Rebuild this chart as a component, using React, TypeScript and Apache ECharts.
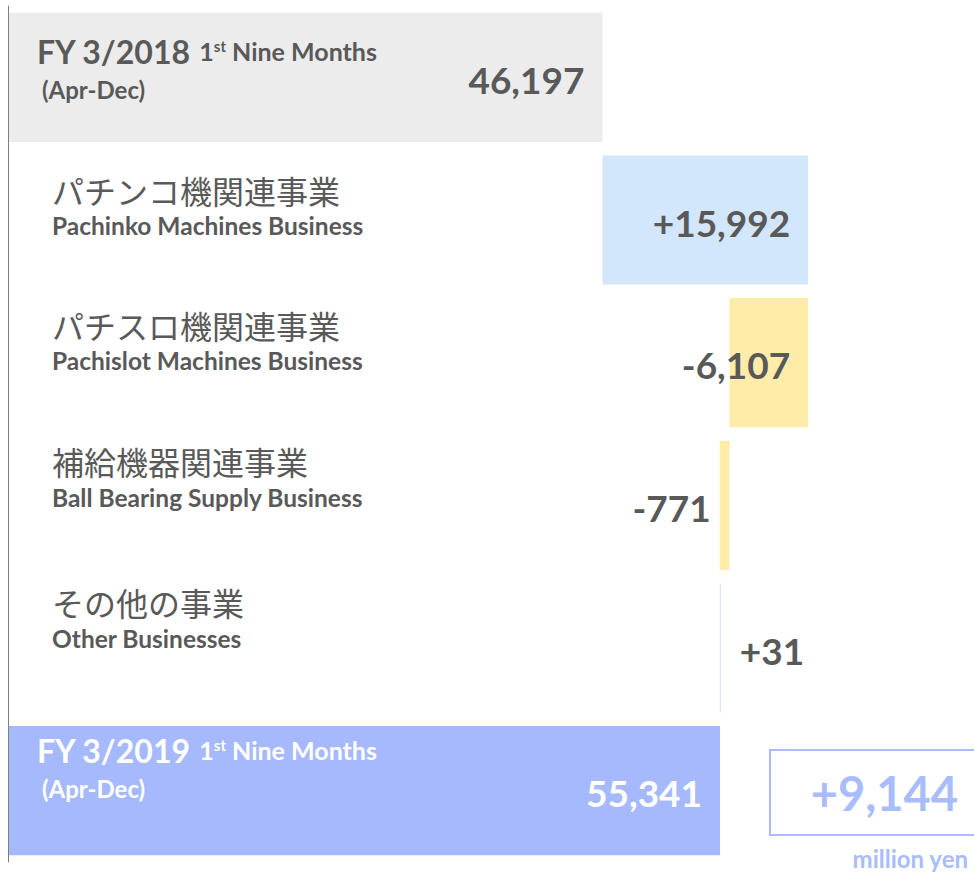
import React, { useEffect, useRef } from "react";
import * as echarts from "echarts";

// ---- data ----
const categoriesJa = ["FY 3/2018", "パチンコ機関連事業", "パチスロ機関連事業", "補給機器関連事業", "その他の事業", "FY 3/2019"];
const categoriesEn = ["1st Nine Months (Apr-Dec)", "Pachinko Machines Business", "Pachislot Machines Business", "Ball Bearing Supply Business", "Other Businesses", "1st Nine Months (Apr-Dec)"];
const startValue = 46197;
const deltas = [15992, -6107, -771, 31];
const endValue = 55341;
const unitLabel = "million yen";

// ---- layout / style constants ----
const W = 974;
const H = 872;
const TEXT = "#595959";
const C_BASE = "#ececec";
const C_UP = "#d2e6fc";
const C_DOWN = "#ffeca9";
const C_END = "#a6b9fd";
const C_NOTE = "#a9bcfd";
const LATO = "Lato, 'Open Sans', sans-serif";
const JP = "'Noto Sans CJK JP', sans-serif";
// extra blank line height below each category label (pushes label up)
const labelGap = [14, 25, 40, 52, 56, 43];

export default function App() {
  const ref = useRef<HTMLDivElement>(null);
  useEffect(() => {
    if (!ref.current) return;
    const chart = echarts.init(ref.current, null, { renderer: "svg" });

    // waterfall computation
    const baseData: number[] = [0];
    const valData: number[] = [startValue];
    let running = startValue;
    deltas.forEach((d) => {
      if (d >= 0) {
        baseData.push(running);
        running += d;
      } else {
        running += d;
        baseData.push(running);
      }
      valData.push(Math.abs(d));
    });
    baseData.push(0);
    valData.push(endValue);

    const signed = ["", ...deltas.map((d) => (d >= 0 ? "+" : "-") + Math.abs(d).toLocaleString("en-US")), ""];
    const fmt = (i: number) =>
      i === 0 ? startValue.toLocaleString("en-US") : i === categoriesJa.length - 1 ? endValue.toLocaleString("en-US") : signed[i];

    const colors = valData.map((_, i) => {
      if (i === 0) return C_BASE;
      if (i === valData.length - 1) return C_END;
      return deltas[i - 1] >= 0 ? C_UP : C_DOWN;
    });

    const labelPos = (i: number) => {
      if (i === 0 || i === valData.length - 1) return { position: "insideRight", distance: 18 };
      const d = deltas[i - 1];
      const v = Math.abs(d);
      if (v > 3000) return { position: "insideRight", distance: 18 };
      if (d < 0) return { position: "left", distance: 9 };
      return { position: "right", distance: 19 };
    };

    const rich: any = {
      fy: { fontSize: 32, fontWeight: "bold", fontFamily: LATO, color: TEXT, lineHeight: 38 },
      ord: { fontSize: 25, fontWeight: "bold", fontFamily: LATO, color: TEXT, lineHeight: 38, padding: [0, 0, 0, 8] },
      sup: { fontSize: 15, fontWeight: "bold", fontFamily: LATO, color: TEXT, lineHeight: 15, verticalAlign: "top", padding: [6, 0, 0, 0] },
      nm: { fontSize: 25, fontWeight: "bold", fontFamily: LATO, color: TEXT, lineHeight: 38 },
      ad: { fontSize: 24, fontWeight: "bold", fontFamily: LATO, color: TEXT, lineHeight: 38, padding: [0, 0, 0, 5] },
      jp: { fontSize: 32, fontFamily: JP, color: TEXT, lineHeight: 36, padding: [0, 0, 0, 15] },
      en: { fontSize: 24.5, fontWeight: "bold", fontFamily: LATO, color: TEXT, lineHeight: 36, padding: [0, 0, 0, 15] },
    };
    ["fy", "ord", "sup", "nm", "ad"].forEach((k) => {
      rich[k + "W"] = { ...rich[k], color: "#ffffff" };
    });
    labelGap.forEach((g, i) => {
      rich["gap" + i] = { fontSize: 1, lineHeight: g, height: g };
    });

    const last = categoriesJa.length - 1;
    const catFormatter = (_v: string, i: number) => {
      if (i === 0 || i === last) {
        const w = i === last ? "W" : "";
        const en = categoriesEn[i];
        const m = en.match(/^(\d+)(st|nd|rd|th) (.*) (\(.*\))$/);
        const num = m ? m[1] : "";
        const suf = m ? m[2] : "";
        const rest = m ? m[3] : en;
        const paren = m ? m[4] : "";
        return `{fy${w}|${categoriesJa[i]}}{ord${w}|${num}}{sup${w}|${suf}}{nm${w}| ${rest}}\n{ad${w}|${paren}}\n{gap${i}| }`;
      }
      return `{jp|${categoriesJa[i]}}\n{en|${categoriesEn[i]}}\n{gap${i}| }`;
    };

    const diff = endValue - startValue;

    chart.setOption({
      animation: false,
      grid: { left: 8, top: 6, width: 965, bottom: 10, containLabel: false },
      xAxis: { type: "value", min: 0, max: 75000, show: false },
      yAxis: {
        type: "category",
        inverse: true,
        data: categoriesJa,
        axisLine: { show: true, lineStyle: { color: "#7f7f7f", width: 1 } },
        axisTick: { show: false },
        splitLine: { show: false },
        z: 10,
        axisLabel: {
          inside: true,
          margin: 29,
          align: "left",
          formatter: catFormatter,
          rich,
        },
      },
      series: [
        {
          type: "bar",
          stack: "w",
          data: baseData,
          itemStyle: { color: "transparent" },
          silent: true,
          barCategoryGap: "9.5%",
        },
        {
          type: "bar",
          stack: "w",
          barCategoryGap: "9.5%",
          barMinHeight: 1.2,
          data: valData.map((v, i) => ({
            value: v,
            itemStyle: { color: colors[i] },
            label: {
              show: true,
              ...labelPos(i),
              offset: [0, 2],
              formatter: () => fmt(i),
              fontFamily: LATO,
              fontWeight: "bold",
              fontSize: 37,
              color: i === last ? "#ffffff" : TEXT,
            },
          })),
        },
      ],
      graphic: [
        {
          type: "rect",
          shape: { x: 770, y: 750, width: 215, height: 85 },
          style: { fill: "none", stroke: C_NOTE, lineWidth: 2 },
        },
        {
          type: "text",
          x: 958,
          y: 793,
          style: {
            text: "+" + diff.toLocaleString("en-US"),
            fill: C_NOTE,
            font: `bold 47px ${LATO}`,
            align: "right",
            verticalAlign: "middle",
            textAlign: "right",
            textVerticalAlign: "middle",
          },
        },
        {
          type: "text",
          x: 968,
          y: 858,
          style: {
            text: unitLabel,
            fill: C_NOTE,
            font: `bold 24px ${LATO}`,
            align: "right",
            verticalAlign: "middle",
            textAlign: "right",
            textVerticalAlign: "middle",
          },
        },
      ],
    });
    return () => chart.dispose();
  }, []);
  return <div ref={ref} style={{ position: "absolute", left: 0, top: 0, width: W, height: H }} />;
}
